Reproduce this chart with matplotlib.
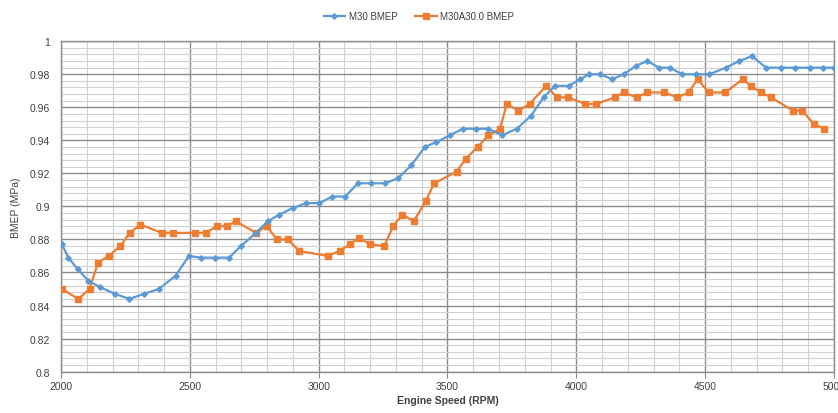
import matplotlib
matplotlib.use("Agg")
import matplotlib.pyplot as plt
from matplotlib.ticker import MultipleLocator

# M30 BMEP (blue)
m30_rpm = [2003, 2028, 2064, 2106, 2152, 2210, 2265, 2321, 2379, 2444, 2496,
           2542, 2596, 2652, 2698, 2756, 2802, 2847, 2899, 2951, 3003, 3052,
           3103, 3152, 3204, 3256, 3308, 3360, 3412, 3457, 3509, 3559, 3611,
           3659, 3711, 3769, 3825, 3873, 3918, 3971, 4016, 4049, 4094, 4139,
           4185, 4230, 4276, 4321, 4363, 4412, 4464, 4516, 4581, 4633, 4682,
           4737, 4795, 4851, 4906, 4958, 5000]
m30_bmep = [0.877, 0.869, 0.862, 0.855, 0.851, 0.847, 0.844, 0.847, 0.850,
            0.858, 0.870, 0.869, 0.869, 0.869, 0.876, 0.884, 0.891, 0.895,
            0.899, 0.902, 0.902, 0.906, 0.906, 0.914, 0.914, 0.914, 0.917,
            0.925, 0.936, 0.939, 0.943, 0.947, 0.947, 0.947, 0.943, 0.947,
            0.955, 0.966, 0.973, 0.973, 0.977, 0.980, 0.980, 0.977, 0.980,
            0.985, 0.988, 0.984, 0.984, 0.980, 0.980, 0.980, 0.984, 0.988,
            0.991, 0.984, 0.984, 0.984, 0.984, 0.984, 0.984]

# M30A30.0 BMEP (orange)
m30a_rpm = [2003, 2067, 2110, 2143, 2184, 2230, 2266, 2308, 2390, 2434, 2519,
            2561, 2604, 2642, 2678, 2756, 2798, 2838, 2879, 2925, 3035, 3081,
            3120, 3155, 3201, 3254, 3289, 3325, 3369, 3415, 3448, 3535, 3572,
            3617, 3659, 3704, 3730, 3775, 3819, 3883, 3925, 3968, 4035, 4077,
            4150, 4185, 4234, 4276, 4341, 4393, 4436, 4471, 4514, 4579, 4646,
            4678, 4717, 4756, 4841, 4877, 4922, 4962]
m30a_bmep = [0.850, 0.844, 0.850, 0.866, 0.870, 0.876, 0.884, 0.889, 0.884,
             0.884, 0.884, 0.884, 0.888, 0.888, 0.891, 0.884, 0.888, 0.880,
             0.880, 0.873, 0.870, 0.873, 0.877, 0.881, 0.877, 0.876, 0.888,
             0.895, 0.891, 0.903, 0.914, 0.921, 0.929, 0.936, 0.943, 0.947,
             0.962, 0.958, 0.962, 0.973, 0.966, 0.966, 0.962, 0.962, 0.966,
             0.969, 0.966, 0.969, 0.969, 0.966, 0.969, 0.977, 0.969, 0.969,
             0.977, 0.973, 0.969, 0.966, 0.958, 0.958, 0.950, 0.947]

BLUE = "#5B9BD5"
ORANGE = "#ED7D31"

plt.rcParams["font.family"] = ["Liberation Sans", "DejaVu Sans"]

fig = plt.figure(figsize=(8.38, 4.14), dpi=100)
ax = fig.add_axes([0.073, 0.100, 0.922, 0.798])

ax.plot(m30_rpm, m30_bmep, color=BLUE, lw=1.6, marker="D", ms=2.8,
        label="M30 BMEP", zorder=4)
ax.plot(m30a_rpm, m30a_bmep, color=ORANGE, lw=1.6, marker="s", ms=4.2,
        label="M30A30.0 BMEP", zorder=3)

ax.set_xlim(2000, 5000)
ax.set_ylim(0.8, 1.0)
ax.xaxis.set_major_locator(MultipleLocator(500))
ax.xaxis.set_minor_locator(MultipleLocator(100))
ax.yaxis.set_major_locator(MultipleLocator(0.02))
ax.yaxis.set_minor_locator(MultipleLocator(0.004))
ax.set_yticks([0.8, 0.82, 0.84, 0.86, 0.88, 0.9, 0.92, 0.94, 0.96, 0.98, 1.0])
ax.set_yticklabels(["0.8", "0.82", "0.84", "0.86", "0.88", "0.9", "0.92",
                    "0.94", "0.96", "0.98", "1"])

ax.grid(which="major", color="#8c8c8c", lw=1.0)
ax.grid(which="minor", color="#d0d0d0", lw=0.8)
ax.set_axisbelow(True)
for side in ["left", "bottom", "top", "right"]:
    ax.spines[side].set_color("#8c8c8c")
    ax.spines[side].set_linewidth(1.0)

ax.tick_params(axis="x", which="major", length=4, color="#8c8c8c",
               labelsize=7.5, labelcolor="#404040", pad=3)
ax.tick_params(axis="x", which="minor", length=0)
ax.tick_params(axis="y", which="both", length=0, labelsize=7.5,
               labelcolor="#404040", pad=8)

ax.set_xlabel("Engine Speed (RPM)", fontsize=7.5, color="#404040",
              fontweight="bold", labelpad=3)
ax.set_ylabel("BMEP (MPa)", fontsize=7.5, color="#404040", labelpad=6)

fig.legend(loc="center", bbox_to_anchor=(0.5, 0.958), ncol=2, frameon=False,
           fontsize=7, labelcolor="#404040", handlelength=2.2,
           columnspacing=1.8, handletextpad=0.4)

fig.savefig("out.png", dpi=100)
